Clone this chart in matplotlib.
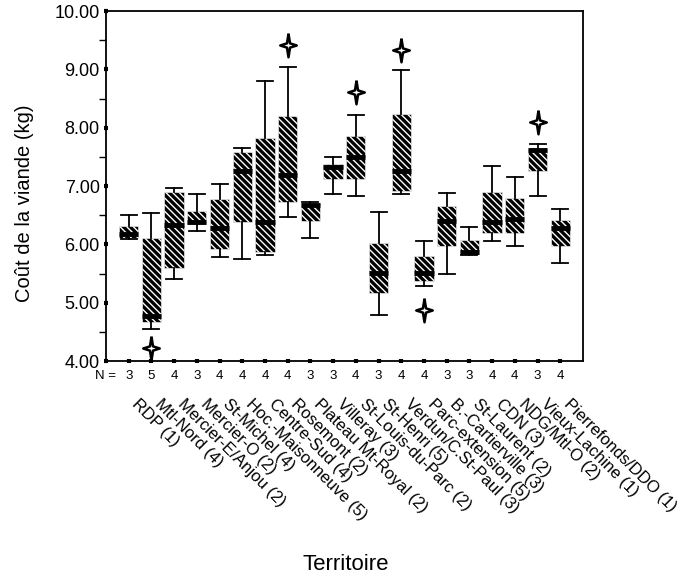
import matplotlib
matplotlib.use("Agg")
import matplotlib.pyplot as plt
import matplotlib.transforms as mtransforms
from matplotlib.path import Path
import numpy as np

plt.rcParams['font.family'] = ['Liberation Sans', 'DejaVu Sans']
plt.rcParams['hatch.linewidth'] = 1.0

territoires = ["RDP (1)", "Mtl-Nord (4)", "Mercier-E/Anjou (2)", "Mercier-O (2)",
               "St-Michel (4)", "Hoc.-Maisonneuve (5)", "Centre-Sud (4)", "Rosemont (2)",
               "Plateau Mt-Royal (2)", "Villeray (3)", "St-Louis-du-Parc (2)", "St-Henri (5)",
               "Verdun/C.St-Paul (3)", "Parc-extension (5)", "B.-Cartierville (3)",
               "St-Laurent (2)", "CDN (3)", "NDG/Mtl-O (2)", "Vieux-Lachine (1)",
               "Pierrefonds/DDO (1)"]
n_obs = [3, 5, 4, 3, 4, 4, 4, 4, 3, 3, 4, 3, 4, 4, 3, 3, 4, 4, 3, 4]

whis_lo = [6.09, 4.55, 5.41, 6.23, 5.79, 5.75, 5.82, 6.47, 6.11, 6.86,
           6.83, 4.79, 6.86, 5.29, 5.49, 5.82, 6.06, 5.98, 6.83, 5.68]
q1 = [6.11, 4.67, 5.59, 6.35, 5.92, 6.38, 5.87, 6.73, 6.40, 7.12,
      7.12, 5.17, 6.92, 5.37, 5.97, 5.84, 6.20, 6.20, 7.25, 5.97]
median = [6.18, 4.78, 6.33, 6.38, 6.28, 7.25, 6.39, 7.19, 6.68, 7.33,
          7.49, 5.51, 7.25, 5.51, 6.40, 5.87, 6.39, 6.43, 7.62, 6.28]
q3 = [6.32, 6.11, 6.89, 6.58, 6.78, 7.58, 7.82, 8.20, 6.71, 7.38,
      7.85, 6.02, 8.23, 5.80, 6.65, 6.07, 6.90, 6.80, 7.66, 6.42]
whis_hi = [6.50, 6.54, 6.97, 6.86, 7.04, 7.65, 8.80, 9.04, 6.72, 7.50,
           8.22, 6.55, 8.99, 6.06, 6.88, 6.29, 7.35, 7.15, 7.72, 6.61]
outliers = [[], [4.22], [], [], [], [], [], [9.42], [], [],
            [8.62], [], [9.33], [4.87], [], [], [], [], [8.10], []]

stats = []
for i in range(len(territoires)):
    stats.append({"whislo": whis_lo[i], "q1": q1[i], "med": median[i], "q3": q3[i],
                  "whishi": whis_hi[i], "fliers": outliers[i], "label": territoires[i]})

# four pointed star for the outliers
star = Path([(0, 1), (0.13, 0.18), (0.7, 0), (0.13, -0.18), (0, -1),
             (-0.13, -0.18), (-0.7, 0), (-0.13, 0.18), (0, 1)])

fig = plt.figure(figsize=(6.9, 5.79), dpi=100)
ax = fig.add_axes([0.1536, 0.3765, 0.6913, 0.6045])

pos = np.arange(1, len(territoires) + 1)
ax.bxp(stats, positions=pos, widths=0.85, capwidths=0.7, patch_artist=True,
       boxprops=dict(facecolor="black", edgecolor="white", linewidth=0.4, hatch="\\\\\\\\\\"),
       medianprops=dict(color="black", linewidth=3.5),
       whiskerprops=dict(color="black", linewidth=1.3),
       capprops=dict(color="black", linewidth=1.3),
       flierprops=dict(marker=star, markerfacecolor="white", markeredgecolor="black",
                       markersize=17, markeredgewidth=1.8, linestyle="none"))

ax.set_xlim(0, 21)
ax.set_ylim(4, 10)
ax.set_yticks(np.arange(4, 10.01, 1))
ax.set_yticklabels(["%.2f" % v for v in np.arange(4, 10.01, 1)], fontsize=13)
ax.set_yticks(np.arange(4.5, 10, 1), minor=True)
ax.tick_params(axis="y", which="major", direction="inout", length=3, width=3, pad=3)
ax.tick_params(axis="y", which="minor", direction="out", length=5, width=1)

ax.set_xticks(pos)
ax.set_xticklabels(territoires, rotation=-45, ha="left", va="center",
                   rotation_mode="anchor", fontsize=12)
ax.tick_params(axis="x", direction="inout", length=3, width=3, pad=28)
shift = mtransforms.ScaledTranslation(6 / 100, 0, fig.dpi_scale_trans)
for lab in ax.get_xticklabels():
    lab.set_transform(lab.get_transform() + shift)

for s in ax.spines.values():
    s.set_linewidth(1.3)

# N row under the axis
trans = ax.get_xaxis_transform()
ax.text(0, -0.042, "N =", transform=trans, ha="center", va="center", fontsize=9.5)
for p, n in zip(pos, n_obs):
    ax.text(p, -0.042, str(n), transform=trans, ha="center", va="center", fontsize=9.5)

ax.set_ylabel("Coût de la viande (kg)", fontsize=14.5)
ax.yaxis.set_label_coords(-0.15, 0.45)
ax.set_xlabel("Territoire", fontsize=16)
ax.xaxis.set_label_coords(0.503, -0.55)

fig.savefig("out.png", dpi=100)
